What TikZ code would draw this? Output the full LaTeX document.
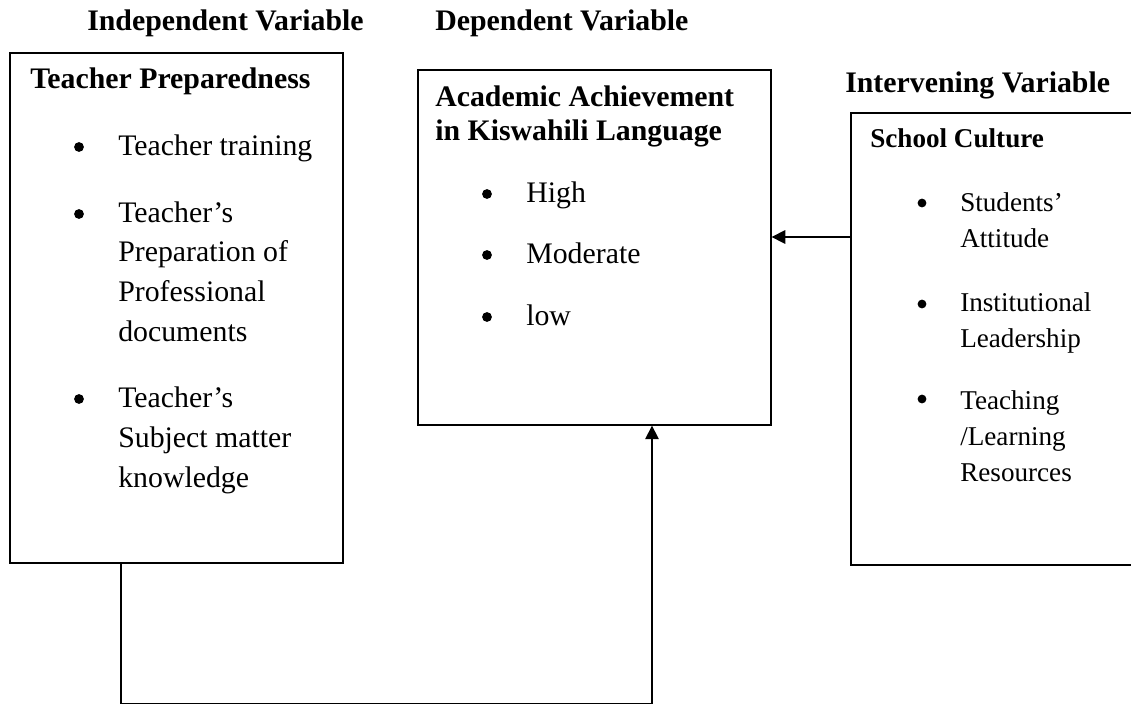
\documentclass[tikz,border=0pt]{standalone}
\usepackage{fontspec}
\setmainfont{Liberation Serif}
\usetikzlibrary{arrows.meta,positioning}

\begin{document}
\begin{tikzpicture}[x=0.025cm, y=-0.025cm,
    >={Triangle[length=0.34cm,width=0.34cm]},
    frame/.style={draw, line width=1.1pt, inner sep=0pt, anchor=north west},
    head/.style={font=\fontsize{21.2}{23.5}\selectfont\bfseries, anchor=base west, inner sep=0pt, align=left},
    item/.style={font=\fontsize{21.2}{28.2}\selectfont, anchor=base west, inner sep=0pt, align=left},
    bulletdot/.style={circle, fill, inner sep=0pt, minimum size=0.245cm},
    subhead/.style={font=\fontsize{19.3}{25.6}\selectfont\bfseries, anchor=base west, inner sep=0pt},
    subitem/.style={font=\fontsize{19.3}{25.6}\selectfont, anchor=base west, inner sep=0pt, align=left},
    subdot/.style={circle, fill, inner sep=0pt, minimum size=0.22cm},
    link/.style={line width=0.9pt}]

    % ---------- page frame (box on the right runs off the page)
    \useasboundingbox (0,0) rectangle (1131,705);
    \clip (0,0) rectangle (1131,705);

    % ---------- column titles
    \node[head] (indep) at (87,30) {Independent Variable};
    \node[head] (dep) at (435,30) {Dependent Variable};
    \node[head] (interv) at (845,92) {Intervening Variable};

    % ---------- boxes
    \node[frame, minimum width=8.325cm, minimum height=12.75cm] (prep) at (9,52) {};
    \node[frame, minimum width=8.825cm, minimum height=8.875cm] (ach) at (417,69) {};
    \node[frame, minimum width=7.5cm, minimum height=11.3cm] (cult) at (850,112) {};

    % ---------- independent variable (multi-line texts sit on their last line)
    \node[head] (prephead) at (30,88) {Teacher Preparedness};
    \node[bulletdot] (pd1) at (79,147) {};
    \node[item] (pi1) at (118,155) {Teacher training};
    \node[bulletdot] (pd2) at (79,214) {};
    \node[item] (pi2) at (118,341) {Teacher’s\\Preparation of\\Professional\\documents};
    \node[bulletdot] (pd3) at (79,399) {};
    \node[item] (pi3) at (118,487) {Teacher’s\\Subject matter\\knowledge};

    % ---------- dependent variable
    \node[head] (achhead) at (435,140) {Academic Achievement\\in Kiswahili Language};
    \node[bulletdot] (ad1) at (487,194) {};
    \node[item] (ai1) at (526,202) {High};
    \node[bulletdot] (ad2) at (487,255) {};
    \node[item] (ai2) at (526,263) {Moderate};
    \node[bulletdot] (ad3) at (487,317) {};
    \node[item] (ai3) at (526,325) {low};

    % ---------- intervening variable
    \node[subhead] (culthead) at (870,147) {School Culture};
    \node[subdot] (cd1) at (922,203) {};
    \node[subitem] (ci1) at (960,247) {Students’\\Attitude};
    \node[subdot] (cd2) at (922,304) {};
    \node[subitem] (ci2) at (960,347) {Institutional\\Leadership};
    \node[subdot] (cd3) at (922,399) {};
    \node[subitem] (ci3) at (960,481) {Teaching\\/Learning\\Resources};

    % ---------- connectors
    \coordinate (lowL) at (121,703.5);
    \coordinate (lowR) at (652,703.5);
    \coordinate (side) at (800,237);
    \draw[link, ->] (prep.south -| lowL) -- (lowL) -- (lowR) -- (ach.south -| lowR);
    \draw[link, ->] (cult.west |- side) -- (ach.east |- side);
\end{tikzpicture}
\end{document}
